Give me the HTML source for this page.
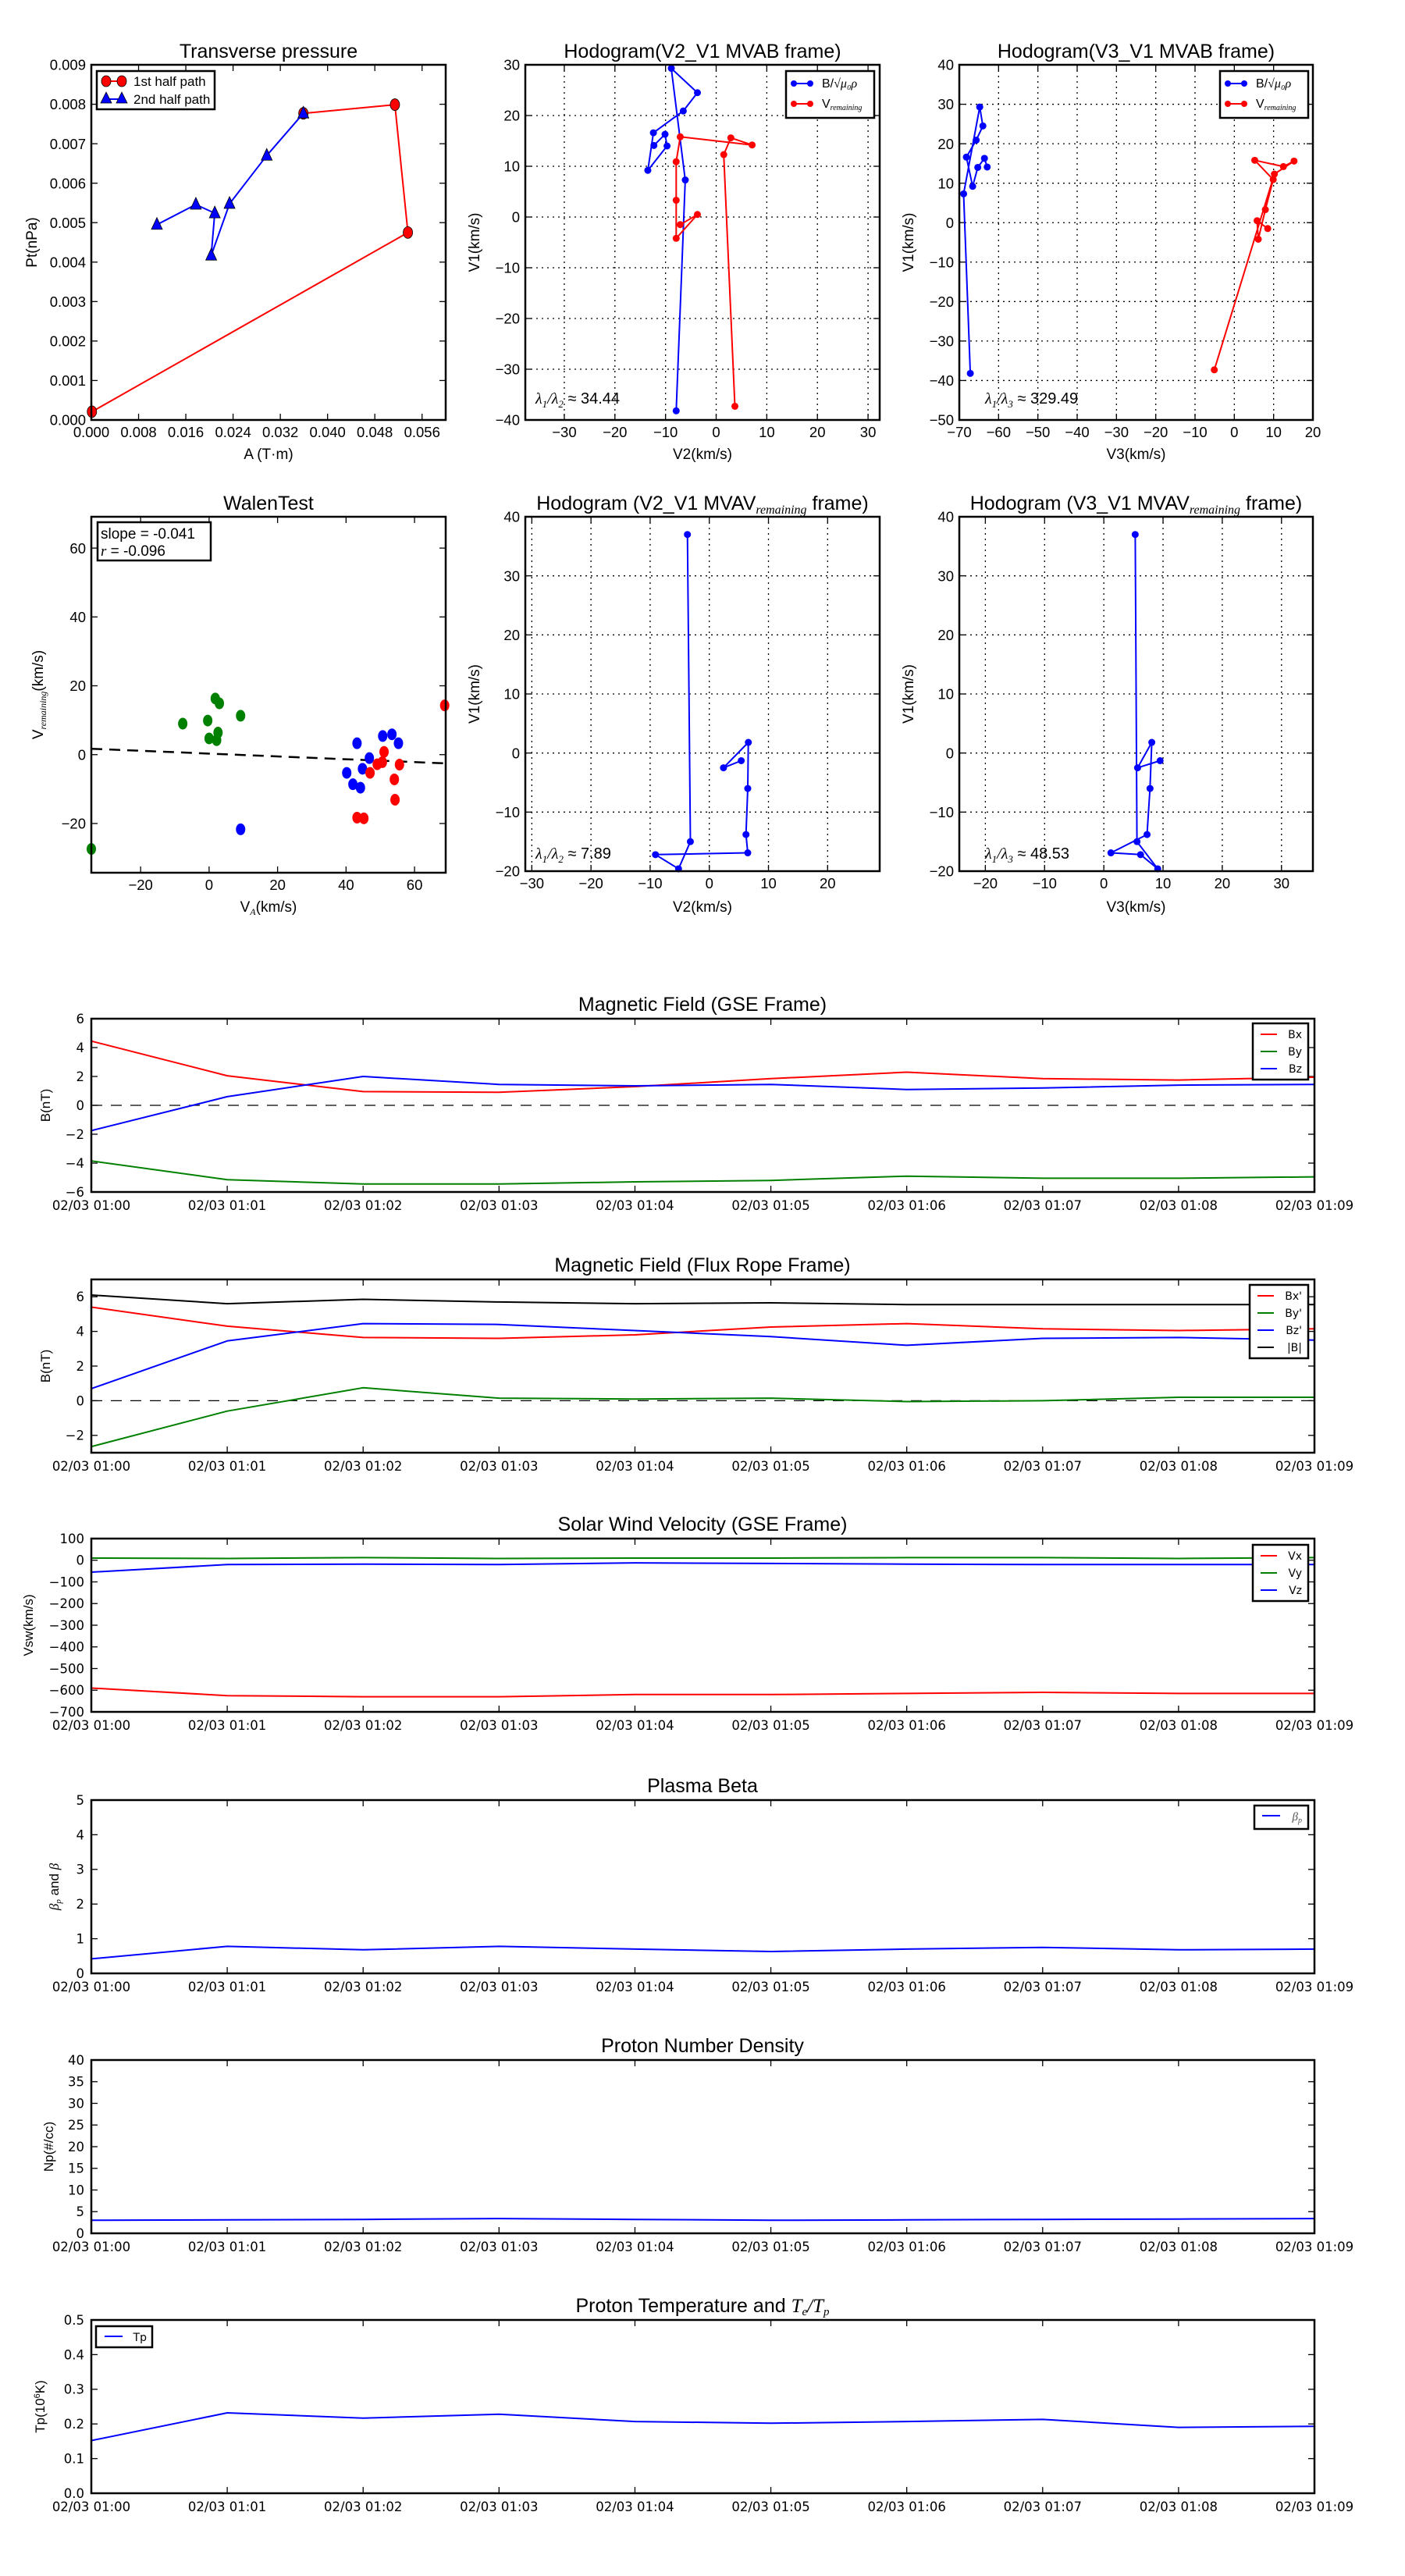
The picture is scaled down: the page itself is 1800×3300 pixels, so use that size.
<!DOCTYPE html>
<html><head><meta charset="utf-8"><title>Flux rope analysis</title>
<style>
html,body{margin:0;padding:0;background:#fff;}
svg{display:block;}
text{font-family:"Liberation Sans",sans-serif;fill:#000;}
.dv{font-family:"DejaVu Sans","Liberation Sans",sans-serif;}
.ser{font-family:"Liberation Serif","DejaVu Serif",serif;font-style:italic;}
</style></head>
<body>
<svg id="chart" xmlns="http://www.w3.org/2000/svg" width="1800" height="3300" viewBox="0 0 1800 3300"></svg>
<script>
// ---------- data ----------
const ptRedA = [0.0001, 0.0536, 0.0514, 0.0359];
const ptRedPt = [0.00021, 0.00475, 0.00799, 0.00777];
const ptBlueA = [0.0359, 0.0297, 0.0234, 0.0203, 0.0209, 0.0177, 0.0111];
const ptBluePt = [0.00777, 0.00670, 0.00548, 0.00417, 0.00524, 0.00546, 0.00495];

const hB_V1 = [-38.2, 7.3, 29.3, 24.5, 20.9, 16.6, 9.2, 14.0, 16.3, 14.1];
const hB_V2 = [-7.9, -6.1, -8.86, -3.7, -6.5, -12.4, -13.5, -9.7, -10.1, -12.3];
const hB_V3 = [-67.2, -68.9, -64.8, -64.0, -65.7, -68.2, -66.6, -65.3, -63.6, -62.9];
const hR_V1 = [-37.3, 12.3, 15.6, 14.2, 15.8, 10.9, 3.3, -4.2, 0.5, -1.5];
const hR_V2 = [3.7, 1.5, 2.9, 7.1, -7.1, -7.9, -7.9, -7.9, -3.7, -7.1];
const hR_V3 = [-5.1, 10.2, 15.2, 12.5, 5.2, 9.9, 7.9, 6.1, 5.8, 8.5];

const wGreenX = [-7.7, -0.4, 1.8, 3.0, 9.2, 2.6, 0, 2.2, -34.4];
const wGreenY = [9.0, 9.9, 16.3, 14.9, 11.3, 6.4, 4.7, 4.2, -27.4];
const wBlueX = [43.2, 50.7, 53.4, 55.3, 46.8, 44.8, 40.2, 42.0, 44.2, 9.2];
const wBlueY = [3.3, 5.4, 5.9, 3.3, -1.0, -4.1, -5.3, -8.6, -9.6, -21.7];
const wRedX = [51.1, 50.6, 49.1, 55.6, 47.0, 54.1, 54.3, 43.2, 45.2, 68.8];
const wRedY = [0.8, -2.2, -2.8, -2.9, -5.3, -7.2, -13.1, -18.3, -18.5, 14.3];
const walenSlope = -0.041;
const walenIntercept = 0.3;

const vV1 = [37.0, -15.0, -19.6, -17.2, -16.9, -13.8, -6.0, 1.8, -2.5, -1.3];
const vV2 = [-3.7, -3.2, -5.2, -9.1, 6.5, 6.2, 6.5, 6.6, 2.4, 5.4];
const vV3 = [5.3, 5.6, 9.1, 6.2, 1.2, 7.3, 7.8, 8.1, 5.7, 9.5];

const timeLabels = ["02/03 01:00","02/03 01:01","02/03 01:02","02/03 01:03","02/03 01:04","02/03 01:05","02/03 01:06","02/03 01:07","02/03 01:08","02/03 01:09"];
const minutes = [0,1,2,3,4,5,6,7,8,9];
const gseBx = [4.45, 2.05, 0.95, 0.9, 1.3, 1.85, 2.3, 1.85, 1.75, 1.95];
const gseBy = [-3.85, -5.15, -5.45, -5.45, -5.3, -5.2, -4.9, -5.05, -5.05, -4.95];
const gseBz = [-1.75, 0.6, 2.0, 1.45, 1.35, 1.45, 1.1, 1.2, 1.4, 1.45];
const frBx = [5.4, 4.3, 3.65, 3.6, 3.8, 4.25, 4.45, 4.15, 4.05, 4.15];
const frBy = [-2.65, -0.6, 0.75, 0.15, 0.1, 0.15, -0.05, 0, 0.2, 0.2];
const frBz = [0.7, 3.45, 4.45, 4.4, 4.05, 3.7, 3.2, 3.6, 3.65, 3.5];
const frBt = [6.1, 5.6, 5.85, 5.7, 5.6, 5.65, 5.55, 5.55, 5.55, 5.55];
const velVx = [-590, -625, -630, -630, -620, -620, -615, -610, -615, -615];
const velVy = [10, 8, 12, 8, 10, 10, 12, 12, 8, 12];
const velVz = [-55, -20, -18, -20, -12, -15, -18, -20, -20, -20];
const betaP = [0.42, 0.78, 0.68, 0.78, 0.7, 0.63, 0.7, 0.75, 0.68, 0.7];
const densNp = [3.0, 3.1, 3.2, 3.4, 3.2, 3.0, 3.1, 3.2, 3.3, 3.4];
const tempTp = [0.152, 0.232, 0.217, 0.228, 0.207, 0.202, 0.207, 0.213, 0.19, 0.193];

// ---------- helpers ----------
const NS = "http://www.w3.org/2000/svg";
const svg = document.getElementById('chart');
function mk(tag, attrs, parent) {
  const e = document.createElementNS(NS, tag);
  for (const k in attrs) e.setAttribute(k, attrs[k]);
  (parent || svg).appendChild(e);
  return e;
}
function txt(str, x, y, size, anchor, parent, cls) {
  const t = mk('text', {x: x, y: y, 'font-size': size, 'text-anchor': anchor || 'middle'}, parent);
  if (cls) t.setAttribute('class', cls);
  t.textContent = str;
  return t;
}
function fmtMinus(v, d) { const s = d === undefined ? String(v) : v.toFixed(d); return s.replace('-', '\u2212'); }
function axes(name, x0, x1, y0, y1, xd, yd) {
  const g = mk('g', {});
  
  
  const sx = v => x0 + (v - xd[0]) / (xd[1] - xd[0]) * (x1 - x0);
  const sy = v => y1 - (v - yd[0]) / (yd[1] - yd[0]) * (y1 - y0);
  return {g, sx, sy, x0, x1, y0, y1};
}
function frame(a) {
  const r = mk('rect', {x: a.x0, y: a.y0, width: a.x1 - a.x0, height: a.y1 - a.y0, fill: 'none', stroke: '#000', 'stroke-width': 2.5}, a.g);
  
  
}
function xticks(a, vals, labels, opts) {
  const gt = mk('g', {}, a.g);
  
  
  vals.forEach((v, i) => {
    const x = a.sx(v);
    if (opts.grid) mk('line', {x1: x, x2: x, y1: a.y0, y2: a.y1, stroke: '#000', 'stroke-width': 1.3, 'stroke-dasharray': '2,5'}, gt);
    mk('line', {x1: x, x2: x, y1: a.y1, y2: a.y1 - 8, stroke: '#000', 'stroke-width': 1.3}, gt);
    mk('line', {x1: x, x2: x, y1: a.y0, y2: a.y0 + 8, stroke: '#000', 'stroke-width': 1.3}, gt);
    const t = txt(labels[i], x, a.y1 + opts.dy, opts.size, 'middle', gt, opts.cls);
    
    
  });
}
function yticks(a, vals, labels, opts) {
  const gt = mk('g', {}, a.g);
  
  
  vals.forEach((v, i) => {
    const y = a.sy(v);
    if (opts.grid) mk('line', {x1: a.x0, x2: a.x1, y1: y, y2: y, stroke: '#000', 'stroke-width': 1.3, 'stroke-dasharray': '2,5'}, gt);
    mk('line', {x1: a.x0, x2: a.x0 + 8, y1: y, y2: y, stroke: '#000', 'stroke-width': 1.3}, gt);
    mk('line', {x1: a.x1, x2: a.x1 - 8, y1: y, y2: y, stroke: '#000', 'stroke-width': 1.3}, gt);
    const t = txt(labels[i], a.x0 - opts.dx, y + opts.size * 0.36, opts.size, 'end', gt, opts.cls);
    
    
  });
}
function series(a, xs, ys, color, name, marker, lw) {
  const g = mk('g', {}, a.g);
  
  
  const pts = xs.map((x, i) => a.sx(x).toFixed(1) + ',' + a.sy(ys[i]).toFixed(1)).join(' ');
  mk('polyline', {points: pts, fill: 'none', stroke: color, 'stroke-width': lw || 2, 'stroke-linejoin': 'round'}, g);
  if (marker) xs.forEach((x, i) => {
    const cx = a.sx(x), cy = a.sy(ys[i]);
    if (marker === 'dot') mk('circle', {cx: cx, cy: cy, r: 4.5, fill: color}, g);
    else if (marker === 'bigdot') mk('ellipse', {cx: cx, cy: cy, rx: 6, ry: 7.5, fill: color, stroke: '#000', 'stroke-width': 0.8}, g);
    else if (marker === 'tri') mk('polygon', {points: `${cx},${cy - 9} ${cx - 7},${cy + 6} ${cx + 7},${cy + 6}`, fill: color, stroke: '#000', 'stroke-width': 0.8}, g);
  });
  return g;
}
function scatter(a, xs, ys, color, name) {
  const g = mk('g', {}, a.g);
  
  
  xs.forEach((x, i) => mk('ellipse', {cx: a.sx(x), cy: a.sy(ys[i]), rx: 6, ry: 7.5, fill: color}, g));
}
function range(a, b, s) { const r = []; for (let v = a; v <= b + 1e-9; v += s) r.push(+v.toFixed(6)); return r; }
function title(a, str, name) {
  const t = txt(str, (a.x0 + a.x1) / 2, a.y0 - 9, 25, 'middle', a.g);
  
  
  return t;
}
function ylab(a, str, x, size, cls) {
  const cy = (a.y0 + a.y1) / 2;
  const t = mk('text', {x: 0, y: 0, 'font-size': size, 'text-anchor': 'middle', transform: `translate(${x},${cy}) rotate(-90)`}, a.g);
  if (cls) t.setAttribute('class', cls);
  t.textContent = str;
  
  
  return t;
}
function xlab(a, str, y) {
  const t = txt(str, (a.x0 + a.x1) / 2, y, 19, 'middle', a.g);
  
  
  return t;
}
function legendBox(a, x, y, w, h, name) {
  const g = mk('g', {}, a.g);
  
  
  mk('rect', {x: x, y: y, width: w, height: h, fill: '#fff', stroke: '#000', 'stroke-width': 2.5}, g);
  return g;
}
function lambdaText(a, x, y, idx, val) {
  const t = mk('text', {x: x, y: y, 'font-size': 20}, a.g);
  
  
  t.innerHTML = `<tspan class="ser">λ</tspan><tspan class="ser" font-size="13" dy="5">1</tspan><tspan class="ser" dy="-5">/λ</tspan><tspan class="ser" font-size="13" dy="5">${idx}</tspan><tspan dy="-5"> ≈ ${val}</tspan>`;
}

// ---------- Panel 1: Transverse pressure ----------
{
  const a = axes('transverse-pressure-chart', 117, 571, 83, 538, [0, 0.06], [0, 0.009]);
  title(a, 'Transverse pressure', 'chart-title');
  const xv = range(0, 0.056, 0.008);
  xticks(a, xv, xv.map(v => v.toFixed(3)), {dy: 22, size: 18.5});
  const yv = range(0, 0.009, 0.001);
  yticks(a, yv, yv.map(v => v.toFixed(3)), {dx: 7, size: 18.5});
  series(a, ptRedA, ptRedPt, '#ff0000', 'first-half-path', 'bigdot');
  series(a, ptBlueA, ptBluePt, '#0000ff', 'second-half-path', 'tri');
  frame(a);
  xlab(a, 'A (T·m)', 588);
  ylab(a, 'Pt(nPa)', 47, 19);
  const lg = legendBox(a, 124, 91, 151, 49, 'legend');
  mk('line', {x1: 136, x2: 156, y1: 104, y2: 104, stroke: '#f00', 'stroke-width': 2}, lg);
  mk('ellipse', {cx: 136, cy: 104, rx: 6, ry: 7, fill: '#f00', stroke: '#000', 'stroke-width': .8}, lg);
  mk('ellipse', {cx: 156, cy: 104, rx: 6, ry: 7, fill: '#f00', stroke: '#000', 'stroke-width': .8}, lg);
  txt('1st half path', 171, 110, 17, 'start', lg);
  mk('line', {x1: 136, x2: 156, y1: 127, y2: 127, stroke: '#00f', 'stroke-width': 2}, lg);
  mk('polygon', {points: '136,118 129,132 143,132', fill: '#00f', stroke: '#000', 'stroke-width': .8}, lg);
  mk('polygon', {points: '156,118 149,132 163,132', fill: '#00f', stroke: '#000', 'stroke-width': .8}, lg);
  txt('2nd half path', 171, 133, 17, 'start', lg);
}

function hodoLegend(a, x) {
  const lg = legendBox(a, x, 91, 113, 60, 'legend');
  mk('line', {x1: x + 10, x2: x + 31, y1: 107, y2: 107, stroke: '#00f', 'stroke-width': 2}, lg);
  mk('circle', {cx: x + 10, cy: 107, r: 4, fill: '#00f'}, lg);
  mk('circle', {cx: x + 31, cy: 107, r: 4, fill: '#00f'}, lg);
  const t1 = mk('text', {x: x + 46, y: 112, 'font-size': 16}, lg);
  t1.innerHTML = 'B/<tspan class="ser">√μ₀ρ</tspan>';
  mk('line', {x1: x + 10, x2: x + 31, y1: 133, y2: 133, stroke: '#f00', 'stroke-width': 2}, lg);
  mk('circle', {cx: x + 10, cy: 133, r: 4, fill: '#f00'}, lg);
  mk('circle', {cx: x + 31, cy: 133, r: 4, fill: '#f00'}, lg);
  const t2 = mk('text', {x: x + 46, y: 138, 'font-size': 16}, lg);
  t2.innerHTML = 'V<tspan class="ser" font-size="10" dy="3">remaining</tspan>';
}

// ---------- Panel 2: Hodogram V2_V1 MVAB ----------
{
  const a = axes('hodogram-v2-v1-mvab', 673, 1127, 83, 538, [-37.7, 32.3], [-40, 30]);
  title(a, 'Hodogram(V2_V1 MVAB frame)', 'chart-title');
  const xv = range(-30, 30, 10), yv = range(-40, 30, 10);
  xticks(a, xv, xv.map(v => fmtMinus(v)), {dy: 22, size: 18.5, grid: true});
  yticks(a, yv, yv.map(v => fmtMinus(v)), {dx: 7, size: 18.5, grid: true});
  series(a, hB_V2, hB_V1, '#0000ff', 'b-alfven-series', 'dot');
  series(a, hR_V2, hR_V1, '#ff0000', 'v-remaining-series', 'dot');
  frame(a);
  xlab(a, 'V2(km/s)', 588);
  ylab(a, 'V1(km/s)', 614, 19);
  hodoLegend(a, 1007);
  lambdaText(a, 686, 517, 2, '34.44');
}

// ---------- Panel 3: Hodogram V3_V1 MVAB ----------
{
  const a = axes('hodogram-v3-v1-mvab', 1229, 1682, 83, 538, [-70, 20], [-50, 40]);
  title(a, 'Hodogram(V3_V1 MVAB frame)', 'chart-title');
  const xv = range(-70, 20, 10), yv = range(-50, 40, 10);
  xticks(a, xv, xv.map(v => fmtMinus(v)), {dy: 22, size: 18.5, grid: true});
  yticks(a, yv, yv.map(v => fmtMinus(v)), {dx: 7, size: 18.5, grid: true});
  series(a, hB_V3, hB_V1, '#0000ff', 'b-alfven-series', 'dot');
  series(a, hR_V3, hR_V1, '#ff0000', 'v-remaining-series', 'dot');
  frame(a);
  xlab(a, 'V3(km/s)', 588);
  ylab(a, 'V1(km/s)', 1170, 19);
  hodoLegend(a, 1563);
  lambdaText(a, 1262, 517, 3, '329.49');
}

// ---------- Panel 4: Walen test ----------
{
  const a = axes('walen-test-chart', 117, 571, 662, 1118, [-34.4, 69.1], [-34.3, 69.1]);
  title(a, 'WalenTest', 'chart-title');
  const xv = range(-20, 60, 20), yv = range(-20, 60, 20);
  xticks(a, xv, xv.map(v => fmtMinus(v)), {dy: 22, size: 18.5});
  yticks(a, yv, yv.map(v => fmtMinus(v)), {dx: 7, size: 18.5});
  const lx = [-34.4, 69.1];
  const ly = lx.map(x => walenIntercept + walenSlope * x);
  const fit = mk('line', {x1: a.sx(lx[0]), y1: a.sy(ly[0]), x2: a.sx(lx[1]), y2: a.sy(ly[1]), stroke: '#000', 'stroke-width': 2.5, 'stroke-dasharray': '14,9'}, a.g);
  
  
  scatter(a, wGreenX, wGreenY, '#008000', 'green-points');
  scatter(a, wBlueX, wBlueY, '#0000ff', 'blue-points');
  scatter(a, wRedX, wRedY, '#ff0000', 'red-points');
  frame(a);
  const xl = mk('text', {x: 344, y: 1168, 'font-size': 19, 'text-anchor': 'middle'}, a.g);
  
  
  xl.innerHTML = 'V<tspan class="ser" font-size="12" dy="4">A</tspan><tspan dy="-4">(km/s)</tspan>';
  const yl = mk('text', {x: 0, y: 0, 'font-size': 19, 'text-anchor': 'middle', transform: 'translate(55,890) rotate(-90)'}, a.g);
  
  
  yl.innerHTML = 'V<tspan class="ser" font-size="12" dy="4">remaining</tspan><tspan dy="-4">(km/s)</tspan>';
  const tb = legendBox(a, 125, 669, 145, 49, 'slope-annotation');
  txt('slope = -0.041', 129, 690, 19, 'start', tb);
  const r = mk('text', {x: 129, y: 712, 'font-size': 19}, tb);
  r.innerHTML = '<tspan class="ser">r</tspan> = -0.096';
}

// ---------- Panel 5: Hodogram V2_V1 MVAV ----------
function vTitle(a, n, name) {
  const t = mk('text', {x: (a.x0 + a.x1) / 2, y: a.y0 - 9, 'font-size': 25, 'text-anchor': 'middle'}, a.g);
  
  
  t.innerHTML = `Hodogram (V${n}_V1 MVAV<tspan class="ser" font-size="16" dy="5">remaining</tspan><tspan dy="-5"> frame)</tspan>`;
}
{
  const a = axes('hodogram-v2-v1-mvav', 673, 1127, 662, 1116, [-31.1, 28.8], [-20, 40]);
  vTitle(a, 2, 'chart-title');
  const xv = range(-30, 20, 10), yv = range(-20, 40, 10);
  xticks(a, xv, xv.map(v => fmtMinus(v)), {dy: 22, size: 18.5, grid: true});
  yticks(a, yv, yv.map(v => fmtMinus(v)), {dx: 7, size: 18.5, grid: true});
  series(a, vV2, vV1, '#0000ff', 'hodogram-series', 'dot');
  frame(a);
  xlab(a, 'V2(km/s)', 1168);
  ylab(a, 'V1(km/s)', 614, 19);
  lambdaText(a, 686, 1100, 2, '7.89');
}
// ---------- Panel 6: Hodogram V3_V1 MVAV ----------
{
  const a = axes('hodogram-v3-v1-mvav', 1229, 1682, 662, 1116, [-24.4, 35.3], [-20, 40]);
  vTitle(a, 3, 'chart-title');
  const xv = range(-20, 30, 10), yv = range(-20, 40, 10);
  xticks(a, xv, xv.map(v => fmtMinus(v)), {dy: 22, size: 18.5, grid: true});
  yticks(a, yv, yv.map(v => fmtMinus(v)), {dx: 7, size: 18.5, grid: true});
  series(a, vV3, vV1, '#0000ff', 'hodogram-series', 'dot');
  frame(a);
  xlab(a, 'V3(km/s)', 1168);
  ylab(a, 'V1(km/s)', 1170, 19);
  lambdaText(a, 1262, 1100, 3, '48.53');
}

// ---------- Time series panels ----------
function tsPanel(name, top, yd, ytv, ytl, ttl, ylabStr, ylabX, zero) {
  const a = axes(name, 117, 1684, top, top + 222, [0, 9], yd);
  const t = mk('text', {x: 900, y: top - 10, 'font-size': 25, 'text-anchor': 'middle'}, a.g);
  
  
  t.innerHTML = ttl;
  xticks(a, minutes, timeLabels, {dy: 23, size: 16.5, cls: 'dv'});
  yticks(a, ytv, ytl, {dx: 9, size: 16.5, cls: 'dv'});
  if (zero) {
    const z = mk('line', {x1: a.x0, x2: a.x1, y1: a.sy(0), y2: a.sy(0), stroke: '#000', 'stroke-width': 1.3, 'stroke-dasharray': '14,11'}, a.g);
    
    
  }
  const yl = mk('text', {x: 0, y: 0, 'font-size': 17, 'text-anchor': 'middle', transform: `translate(${ylabX},${top + 111}) rotate(-90)`}, a.g);
  
  
  yl.innerHTML = ylabStr;
  return a;
}
function tsLegend(a, x, y, w, entries, lineX0) {
  const lg = legendBox(a, x, y, w, entries.length * 22 + 6, 'legend');
  entries.forEach((e, i) => {
    const cy = y + 14 + i * 22;
    mk('line', {x1: x + 10, x2: x + 31, y1: cy, y2: cy, stroke: e[1], 'stroke-width': 2}, lg);
    const t = txt(e[0], x + w - 8, cy + 5, 14, 'end', lg, 'dv');
    
    
  });
  return lg;
}
{
  const yv = range(-6, 6, 2);
  const a = tsPanel('magnetic-field-gse-chart', 1305, [-6, 6], yv, yv.map(v => fmtMinus(v)), 'Magnetic Field (GSE Frame)', 'B(nT)', 64, true);
  series(a, minutes, gseBx, '#ff0000', 'bx-series');
  series(a, minutes, gseBy, '#008000', 'by-series');
  series(a, minutes, gseBz, '#0000ff', 'bz-series');
  frame(a);
  tsLegend(a, 1605, 1311, 71, [['Bx', '#f00'], ['By', '#008000'], ['Bz', '#00f']]);
}
{
  const yv = range(-2, 6, 2);
  const a = tsPanel('magnetic-field-flux-rope-chart', 1639, [-3, 7], yv, yv.map(v => fmtMinus(v)), 'Magnetic Field (Flux Rope Frame)', 'B(nT)', 64, true);
  series(a, minutes, frBx, '#ff0000', 'bx-prime-series');
  series(a, minutes, frBy, '#008000', 'by-prime-series');
  series(a, minutes, frBz, '#0000ff', 'bz-prime-series');
  series(a, minutes, frBt, '#000000', 'b-total-series');
  frame(a);
  tsLegend(a, 1601, 1646, 75, [["Bx'", '#f00'], ["By'", '#008000'], ["Bz'", '#00f'], ['|B|', '#000']]);
}
{
  const yv = range(-700, 100, 100);
  const a = tsPanel('solar-wind-velocity-chart', 1971, [-700, 100], yv, yv.map(v => fmtMinus(v)), 'Solar Wind Velocity (GSE Frame)', 'Vsw(km/s)', 42, false);
  series(a, minutes, velVx, '#ff0000', 'vx-series');
  series(a, minutes, velVy, '#008000', 'vy-series');
  series(a, minutes, velVz, '#0000ff', 'vz-series');
  frame(a);
  tsLegend(a, 1605, 1979, 71, [['Vx', '#f00'], ['Vy', '#008000'], ['Vz', '#00f']]);
}
{
  const yv = range(0, 5, 1);
  const a = tsPanel('plasma-beta-chart', 2306, [0, 5], yv, yv.map(v => String(v)), 'Plasma Beta', '<tspan class="ser">β<tspan font-size="11" dy="3">p</tspan></tspan><tspan dy="-3"> and </tspan><tspan class="ser">β</tspan>', 75, false);
  series(a, minutes, betaP, '#0000ff', 'beta-p-series');
  frame(a);
  const lg = legendBox(a, 1607, 2313, 69, 30, 'legend');
  mk('line', {x1: 1617, x2: 1640, y1: 2326, y2: 2326, stroke: '#00f', 'stroke-width': 2}, lg);
  const t = mk('text', {x: 1668, y: 2332, 'font-size': 15, 'text-anchor': 'end'}, lg);
  t.innerHTML = '<tspan class="ser" fill="#555">β<tspan font-size="10" dy="3">p</tspan></tspan>';
}
{
  const yv = range(0, 40, 5);
  const a = tsPanel('proton-density-chart', 2639, [0, 40], yv, yv.map(v => String(v)), 'Proton Number Density', 'Np(#/cc)', 68, false);
  series(a, minutes, densNp, '#0000ff', 'np-series');
  frame(a);
}
{
  const yv = range(0, 0.5, 0.1);
  const a = tsPanel('proton-temperature-chart', 2972, [0, 0.5], yv, yv.map(v => v.toFixed(1)), 'Proton Temperature and <tspan class="ser">T<tspan font-size="15" dy="4">e</tspan><tspan dy="-4">/T</tspan><tspan font-size="15" dy="4">p</tspan></tspan>', 'Tp(10<tspan font-size="11" dy="-6">6</tspan><tspan dy="6">K)</tspan>', 57, false);
  series(a, minutes, tempTp, '#0000ff', 'tp-series');
  frame(a);
  const lg = legendBox(a, 123, 2980, 72, 27, 'legend');
  mk('line', {x1: 134, x2: 157, y1: 2993, y2: 2993, stroke: '#00f', 'stroke-width': 2}, lg);
  txt('Tp', 188, 2999, 14, 'end', lg, 'dv');
}
</script>
</body></html>
